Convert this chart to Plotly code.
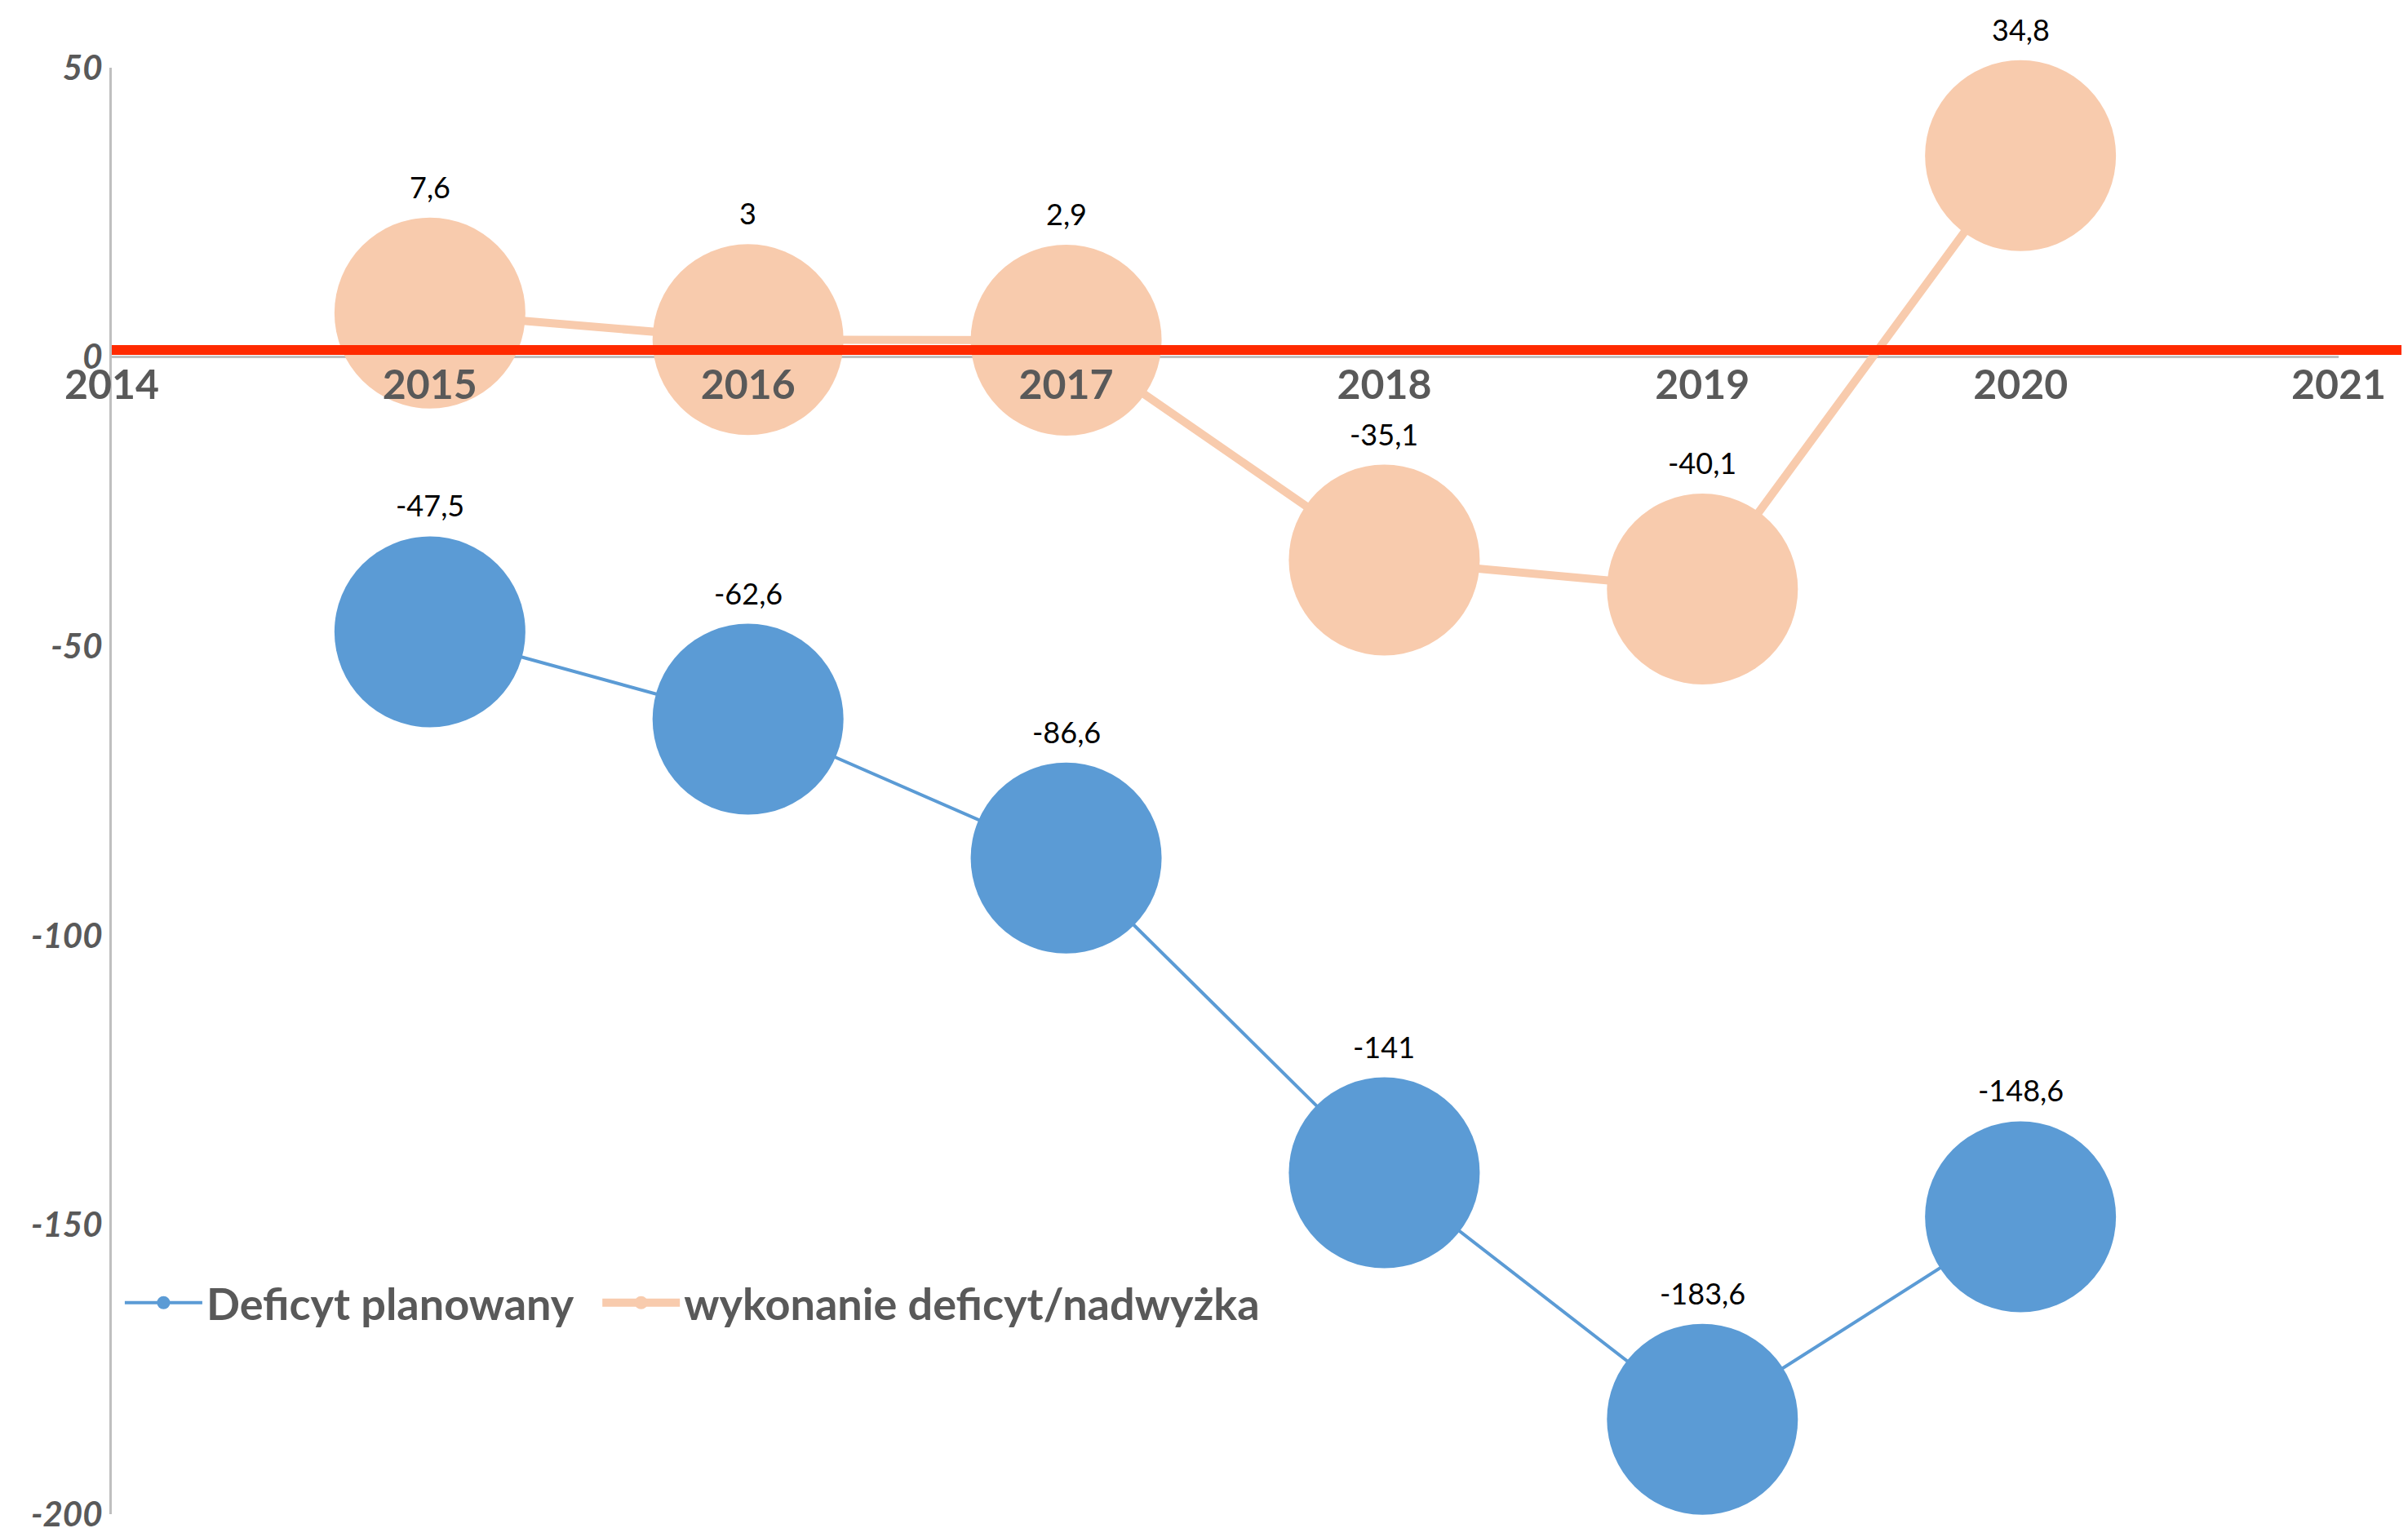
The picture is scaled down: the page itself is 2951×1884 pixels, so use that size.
import plotly.graph_objects as go

# Deficit planned vs. actual result (bln PLN)
years = [2015, 2016, 2017, 2018, 2019, 2020]
planned = [-47.5, -62.6, -86.6, -141, -183.6, -148.6]
actual = [7.6, 3, 2.9, -35.1, -40.1, 34.8]
planned_labels = ["-47,5", "-62,6", "-86,6", "-141", "-183,6", "-148,6"]
actual_labels = ["7,6", "3", "2,9", "-35,1", "-40,1", "34,8"]
y_ticks = [50, 0, -50, -100, -150, -200]
y_tick_labels = ["50", "0", "-50", "-100", "-150", "-200"]

blue = "#5B9BD5"
orange = "#F8CBAD"
red = "#FF2A00"
grey_text = "#595959"
font_family = "Lato, 'Open Sans', sans-serif"

fig = go.Figure()
fig.add_trace(
    go.Scatter(
        # trailing nbsp just widens the gap before the next legend item
        name="Deficyt planowany\u00a0\u00a0",
        x=years,
        y=planned,
        mode="lines+markers",
        line=dict(color=blue, width=4),
        marker=dict(color=blue, size=234),
        cliponaxis=False,
    )
)
fig.add_trace(
    go.Scatter(
        name="wykonanie deficyt/nadwyżka",
        x=years,
        y=actual,
        mode="lines+markers",
        line=dict(color=orange, width=10),
        marker=dict(color=orange, size=234),
        cliponaxis=False,
    )
)

# value labels sit just above each bubble
for xs, ys, labels in [(years, planned, planned_labels), (years, actual, actual_labels)]:
    for x, y, label in zip(xs, ys, labels):
        fig.add_annotation(
            x=x,
            y=y,
            text=label,
            showarrow=False,
            yshift=155,
            font=dict(family=font_family, size=36, color="black"),
        )

# red zero reference line, running to the right edge of the page
fig.add_shape(
    type="line",
    xref="paper",
    yref="y",
    x0=0,
    x1=1.034,
    y0=1.2,
    y1=1.2,
    line=dict(color=red, width=12),
    layer="above",
)

fig.update_layout(
    width=2951,
    height=1884,
    margin=dict(l=129, r=93, t=75, b=24),
    plot_bgcolor="white",
    paper_bgcolor="white",
    font=dict(family=font_family, color=grey_text),
    showlegend=True,
    legend=dict(
        orientation="h",
        x=0.004,
        y=0.146,
        xanchor="left",
        yanchor="middle",
        itemwidth=95,
        font=dict(size=54, color=grey_text, weight="bold"),
        bgcolor="rgba(0,0,0,0)",
    ),
    xaxis=dict(
        range=[2014, 2021],
        dtick=1,
        tick0=2014,
        showgrid=False,
        showline=False,
        zeroline=False,
        anchor="free",
        position=0.8,
        ticks="",
        tickfont=dict(size=50, color=grey_text, weight="bold"),
    ),
    yaxis=dict(
        range=[-200, 50],
        tickvals=y_ticks,
        ticktext=y_tick_labels,
        showgrid=False,
        showline=True,
        linecolor="#BFBFBF",
        linewidth=3,
        zeroline=True,
        zerolinecolor="#BFBFBF",
        zerolinewidth=3,
        ticks="",
        tickfont=dict(size=42, color=grey_text, weight="bold", style="italic"),
    ),
)

fig.write_html("out.html")
